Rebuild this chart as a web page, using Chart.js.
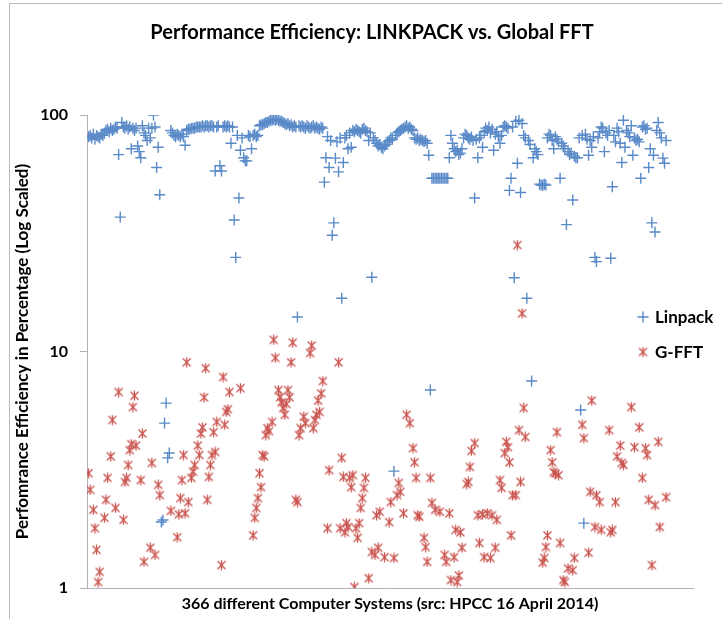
<!DOCTYPE html>
<html lang="en">
<head>
  <meta charset="UTF-8" />
  <title>Performance Efficiency: LINKPACK vs. Global FFT</title>
  <script src="https://cdn.jsdelivr.net/npm/chart.js"></script>
  <style>
    html, body { margin: 0; padding: 0; background: #fff; }
    #wrap { position: relative; width: 722px; height: 619px; overflow: hidden; }
    #frame { position: absolute; left: 9px; top: 3px; width: 760px; height: 660px;
             border-left: 1px solid #b9b9b9; border-top: 1px solid #b9b9b9; }
    canvas { position: absolute; left: 0; top: 0; }
  </style>
</head>
<body>
<div id="wrap">
  <div id="frame"></div>
  <canvas id="grafico" width="722" height="619"></canvas>
</div>

<script>
  // values, one per system (null = no mark visible)
  const linpack = [
    81, 82, 80, 83, 79, 82, 81, 80, 83, 82,
    84, 86, 87, 85, 88, 86, 87, 89, 88, 68,
    37, 93, 89, 88, 90, 87, 89, 72, 88, 86,
    88, 74, 70, 66, 90, 84, 82, 78, 88, 80,
    88, 100, 89, 60, 73, 46, 1.9, 1.94, 4.98, 6.05,
    3.55, 3.72, 86, 84, 82, 81, 83, 82, 81, 83,
    81, 74.5, 86, 87, 87, 88, 88, 88, 89, 89,
    89, 89, 90, 89, 90, 90, 89, 90, 90, 89,
    58, 89, 90, 61, 58, 89, 90, 89, 90, 89,
    76, 89, 36, 25, 82, 44.6, 71, 80, 66, 64,
    64, 82, 81, 72, 82, 83, 81, 82, 90, 91,
    91, 92, 93, 93, 94, 95, 95, 96, 95, 96,
    95, 94, 94, 93, 92, 91, 92, 90, 91, 89,
    90, 89, 14, 90, 89, 90, 89, 88, 90, 89,
    88, 89, 90, 88, 89, 88, 87, 89, 88, 52,
    66, 81, 60, 78, 31, 35, 65.7, 77, 57.5, 80,
    16.8, 63, 80, 82, 72, 84, 73, 86, 85, 87,
    86, 85, 84, 87, 88, 86, 85, 78, 84, 20.6,
    80, 78, 76, 74, 75, 73, 72, 74, 75, 77,
    78, 80, 79, 3.12, 82, 84, 85, 86, 87, 88,
    89, 90, 88, 89, 87, 86, 80, 79, 80, 78,
    79, 78, 77, 78, 76, 67.6, 6.87, 54, 54, 54,
    54, 54, 54, 54, 54, 54, 54, 54, 66, 82,
    76, 72, 70, 71, 68, 69, 72, 80, 83, 82,
    80, 79, 81, 78, 44.6, 79, 66, 80, 82, 73,
    85, 88, 86, 89, 84, 87, 71, 83, 85, 81,
    76, 82, 89, 90, 89, 88, 48, 54, 89, 20.5,
    94, 62.5, 95, 47, 92, 82, 80, 16.8, 78, 75,
    7.5, 66, 72, 70, 68, 51, 50.6, 50.5, 51, 50.6,
    80, 83, 82, 78, 72, 81, 79, 77, 54, 76,
    74, 72, 34.4, 70, 68, 69, 43.7, 67, 66, 66,
    80, 5.66, 82, 1.88, 83, 79, 67.6, 78, 73, 81,
    25, 24, 80, 85, 89, 88, 70, 84, 82, 86,
    24.8, 49.7, 82, 77, 88, 85, 76, 63, 95, 73,
    86, 84, 81, 90, 67.6, 80, 78, 79, 77, 54,
    89, 90, 87, 88, 60, 72, 35, 67.6, 32, 86,
    93, 84, 80, 65.7, 62.5, 78
  ];

  const gfft = [
    3.06, 2.6, null, 2.14, 1.79, 1.45, 1.06, 1.17, null, null,
    1.98, 2.36, 2.92, null, 3.6, 5.13, null, 2.18, null, 6.74,
    null, null, 1.94, 2.81, 2.92, 3.31, 3.83, 4.06, 5.82, 6.5,
    4.0, null, null, 2.86, 4.5, 1.29, null, null, null, 1.48,
    3.38, null, 1.38, null, 2.73, 2.47, null, null, null, null,
    null, null, 2.12, null, null, null, 1.64, 2.05, 2.4, 2.86,
    3.65, 2.07, 9.0, 2.31, null, 2.92, 3.1, 3.31, null, 4.0,
    3.65, 4.5, 4.78, 6.4, 8.5, 2.36, 2.95, 3.31, 3.65, 4.56,
    3.76, 5.04, null, null, 1.25, 7.8, 4.9, 5.55, 5.7, 6.74,
    null, null, null, null, null, null, 7.0, null, null, null,
    null, null, null, null, 1.67, 1.98, 2.18, 2.4, 3.06, 2.67,
    3.65, 3.6, 4.43, 4.74, 4.6, null, 5.04, 11.2, 9.4, null,
    6.87, 6.4, 6.1, 5.77, 5.4, 6.0, 6.87, 6.4, 9.0, 10.9,
    null, 2.36, 2.31, 4.43, 4.74, null, 5.3, 4.98, null, null,
    9.85, 10.6, 4.74, 5.13, 5.4, 6.2, 5.55, 6.65, 7.5, null,
    null, 1.79, 3.15, null, null, null, null, null, 9.0, 1.79,
    3.55, 2.95, 1.72, 1.88, 1.81, 2.92, 2.67, 3.0, 1.01, 1.79,
    1.63, 1.88, 2.18, 2.4, 2.65, 2.92, null, 1.1, null, 1.42,
    null, 1.38, 2.03, 1.48, 2.1, null, null, 1.35, null, null,
    1.9, 2.31, null, 1.34, null, 2.47, 2.78, 2.55, null, 2.07,
    null, 5.4, null, 4.98, null, 3.9, 3.4, 2.92, 2.03, 2.0,
    null, null, 1.63, 1.49, 1.29, null, 2.92, 2.29, null, 2.14,
    null, null, 2.1, null, null, 1.38, 1.29, null, 2.07, 1.08,
    null, 1.35, 1.76, 1.06, 1.13, 1.72, 1.48, null, null, 2.75,
    2.81, 3.25, 3.8, null, 4.1, null, 2.03, 1.55, null, 2.05,
    1.35, null, 2.07, null, 1.34, 2.03, null, 1.48, 1.94, null,
    2.86, 2.65, null, 3.72, 4.15, 3.94, 3.4, 1.67, 2.47, null,
    2.47, 28.2, 4.65, 2.81, 14.5, 5.77, 4.35, null, null, null,
    null, null, null, null, null, null, null, 1.28, 1.34, 1.49,
    1.67, null, 3.83, 3.4, 3.09, 3.05, 4.56, 3.0, 1.55, null,
    1.08, 1.06, null, 1.21, null, null, 1.19, 1.34, null, null,
    null, null, 4.9, 4.3, null, null, 1.41, 2.55, 6.2, null,
    1.81, 2.47, null, 2.31, 1.76, null, null, null, null, 4.65,
    1.72, 1.76, null, 2.31, 3.6, null, 4.0, 3.38, 3.31, null,
    null, null, null, 5.82, null, 3.94, null, null, 4.78, null,
    2.92, null, 3.9, 3.65, 2.36, null, 1.25, null, 2.24, null,
    4.15, 1.81, null, null, null, 2.42
  ];

  const systems = linpack.map((v, i) => i + 1);   // 1..366
  const yTicks = [1, 10, 100];
  const seriesNames = ['Linpack', 'G-FFT'];

  const blue = '#5a8ac8';
  const red = '#c9524d';

  // red "asterisk" marker: X with a vertical bar
  function starMark(color) {
    const c = document.createElement('canvas');
    c.width = 11; c.height = 11;
    const g = c.getContext('2d');
    g.strokeStyle = color;
    g.lineWidth = 1.3;
    g.beginPath();
    g.moveTo(1.5, 1.5); g.lineTo(9.5, 9.5);
    g.moveTo(9.5, 1.5); g.lineTo(1.5, 9.5);
    g.moveTo(5.5, 0.5); g.lineTo(5.5, 10.5);
    g.stroke();
    return c;
  }
  const redStar = starMark(red);

  // legend drawn inside the plot, on the right
  const innerLegend = {
    id: 'innerLegend',
    afterDraw(chart, args, opts) {
      const ctx = chart.ctx;
      ctx.save();
      ctx.font = 'bold 17px Lato';
      ctx.textBaseline = 'middle';
      chart.data.datasets.forEach((ds, i) => {
        const y = opts.y + i * opts.gap;
        if (ds.pointStyle === 'cross') {
          ctx.strokeStyle = ds.borderColor;
          ctx.lineWidth = ds.borderWidth;
          ctx.beginPath();
          ctx.moveTo(opts.x - 5.5, y); ctx.lineTo(opts.x + 5.5, y);
          ctx.moveTo(opts.x, y - 5.5); ctx.lineTo(opts.x, y + 5.5);
          ctx.stroke();
        } else {
          ctx.drawImage(ds.pointStyle, opts.x - 5.5, y - 5.5);
        }
        ctx.fillStyle = '#000';
        ctx.fillText(ds.label, opts.x + 12, y + 1);
      });
      ctx.restore();
    }
  };

  const ctx = document.getElementById('grafico').getContext('2d');
  const chart = new Chart(ctx, {
    type: 'scatter',
    data: {
      datasets: [
        {
          label: seriesNames[0],
          data: linpack.map((v, i) => ({ x: systems[i], y: v })),
          pointStyle: 'cross',
          pointRadius: 5.5,
          borderColor: blue,
          backgroundColor: blue,
          borderWidth: 1.4
        },
        {
          label: seriesNames[1],
          data: gfft.map((v, i) => ({ x: systems[i], y: v })),
          pointStyle: redStar,
          pointRadius: 5,
          borderColor: red,
          backgroundColor: red,
          borderWidth: 1.3
        }
      ]
    },
    options: {
      responsive: false,
      animation: false,
      devicePixelRatio: 1,
      events: [],
      layout: { padding: { left: 22, right: 0, top: 0, bottom: 0 } },
      plugins: {
        legend: { display: false },
        tooltip: { enabled: false },
        title: {
          display: true,
          text: 'Performance Efficiency: LINKPACK vs. Global FFT',
          color: '#000',
          font: { family: 'Lato', size: 20, weight: 'bold' },
          padding: { top: 21, bottom: 70 }
        },
        innerLegend: { x: 643, y: 317, gap: 35 }
      },
      scales: {
        x: {
          type: 'linear',
          min: 0,
          max: 383,
          grid: { display: false },
          border: { color: '#b3b3b3' },
          ticks: { display: false },
          title: {
            display: true,
            text: '366 different Computer Systems (src: HPCC 16 April 2014)',
            color: '#000',
            font: { family: 'Lato', size: 16, weight: 'bold' },
            padding: { top: 0, bottom: 6 }
          },
          afterFit: s => { s.height = 31; }
        },
        y: {
          type: 'logarithmic',
          min: 1,
          max: 100,
          afterBuildTicks: s => { s.ticks = yTicks.map(v => ({ value: v })); },
          ticks: {
            callback: v => String(v),
            color: '#000',
            font: { family: 'Lato', size: 16, weight: 'bold' },
            padding: 12
          },
          grid: { drawOnChartArea: false, drawTicks: true, tickLength: 7, color: '#b3b3b3' },
          border: { color: '#b3b3b3' },
          title: {
            display: true,
            text: 'Perfomrance Efficiency in Percentage (Log Scaled)',
            color: '#000',
            font: { family: 'Lato', size: 17, weight: 'bold' },
            padding: { top: -10, bottom: 0 }
          },
          afterFit: s => { s.width = 65; }
        },
        y2: {
          type: 'linear',
          position: 'right',
          grid: { display: false },
          border: { display: false },
          ticks: { display: false },
          afterFit: s => { s.width = 29; }
        }
      }
    },
    plugins: [innerLegend]
  });
</script>
</body>
</html>
